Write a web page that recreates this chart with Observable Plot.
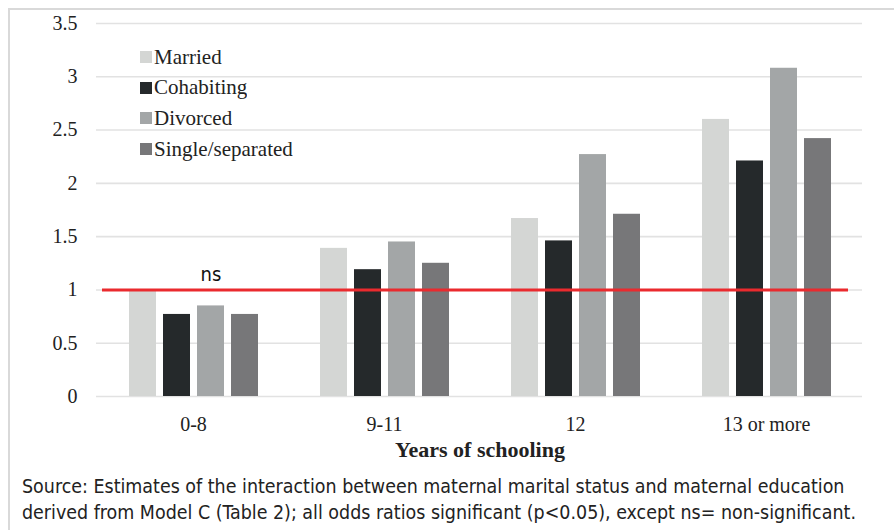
<!DOCTYPE html>
<html>
<head>
<meta charset="utf-8">
<script src="https://cdn.jsdelivr.net/npm/d3@7"></script>
<script src="https://cdn.jsdelivr.net/npm/@observablehq/plot@0.6"></script>
<style>
  html, body { margin: 0; padding: 0; background: #fff; }
  #wrap { position: relative; width: 894px; height: 530px; overflow: hidden; background: #fff; }
  #frame { position: absolute; left: 8px; top: 8px; right: 0; bottom: -10px;
           border-left: 2px solid #d9d9d9; border-top: 2px solid #d9d9d9; }
  .layer { position: absolute; left: 0; top: 0; }
  .layer svg { display: block; }
  #legend { position: absolute; left: 140px; top: 42px; }
  #legend .lg-swatch { height: 30.6px; margin: 0; padding: 0; display: flex; align-items: center; }
  #legend .lg-swatch svg { margin-right: 2px !important; }
  #caption { position: absolute; left: 22px; top: 474px; color: #222;
             font-family: "Liberation Sans Narrow", "DejaVu Sans Condensed", "Noto Sans", sans-serif;
             line-height: 26px; white-space: nowrap; }
  g[aria-label="fx-axis label"] text, g[aria-label="fx-axis label"] { font-weight: bold; font-size: 22px; }
</style>
</head>
<body>
<div id="wrap">
  <div id="frame"></div>
  <div id="gridLayer" class="layer"></div>
  <div id="barLayer" class="layer"></div>
  <div id="refLayer" class="layer"></div>
  <div id="legend"></div>
  <div id="caption"></div>
</div>
<script>
// ---- data ----
const groups = ["0-8", "9-11", "12", "13 or more"];
const statuses = ["Married", "Cohabiting", "Divorced", "Single/separated"];
const married = [1.00, 1.39, 1.67, 2.60];
const cohabiting = [0.77, 1.19, 1.46, 2.21];
const divorced = [0.85, 1.45, 2.27, 3.08];
const single = [0.77, 1.25, 1.71, 2.42];
const yTicks = [0, 0.5, 1, 1.5, 2, 2.5, 3, 3.5];
const refValue = 1;
const nsNote = {group: "0-8", status: "Divorced", value: refValue, label: "ns"};
const xLabel = "Years of schooling";
const captionLines = [
  "Source: Estimates of the interaction between maternal marital status and maternal education",
  "derived from Model C (Table 2); all odds ratios significant (p<0.05), except ns= non-significant."
];
const colors = ["#d4d6d4", "#25292b", "#a3a6a7", "#777779"];

const seriesByStatus = [married, cohabiting, divorced, single];
const rows = [];
groups.forEach((g, gi) => statuses.forEach((s, si) => rows.push({group: g, status: s, value: seriesByStatus[si][gi]})));

// ---- shared layout ----
const W = 894, H = 465;
const common = {
  width: W, height: H,
  marginLeft: 96, marginRight: 32, marginTop: 23, marginBottom: 69,
  style: {background: "transparent", fontFamily: "'Liberation Serif', 'Times New Roman', serif", fontSize: "20px", color: "#222", overflow: "visible"}
};
const yDomain = [0, 3.5];

// background: y axis + grid
const gridPlot = Plot.plot({
  ...common,
  y: {domain: yDomain, ticks: yTicks, tickFormat: d => String(d), tickSize: 0, tickPadding: 19, label: null},
  marks: [
    Plot.ruleY(yTicks, {stroke: "#e2e2e2", strokeWidth: 1.6})
  ]
});
document.getElementById("gridLayer").appendChild(gridPlot);

// bars, faceted by schooling group
const barPlot = Plot.plot({
  ...common,
  fx: {domain: groups, paddingInner: 0.31, paddingOuter: 0.155, axis: "bottom", tickSize: 0, tickPadding: 20,
       label: xLabel, labelAnchor: "center", labelOffset: 60},
  x: {domain: statuses, paddingInner: 0.22, paddingOuter: 0, axis: null},
  y: {domain: yDomain, axis: null},
  color: {domain: statuses, range: colors},
  marks: [
    Plot.barY(rows, {fx: "group", x: "status", y: "value", fill: "status"}),
    Plot.text([nsNote], {fx: "group", x: "status", y: "value", text: "label", lineAnchor: "bottom", dy: -9,
                         fontFamily: "'Liberation Sans Narrow', 'DejaVu Sans Condensed', 'Noto Sans', sans-serif", fontSize: 20, fill: "#111"})
  ]
});
document.getElementById("barLayer").appendChild(barPlot);

// reference line on top
const refPlot = Plot.plot({
  ...common,
  y: {domain: yDomain, axis: null},
  marks: [
    Plot.ruleY([refValue], {stroke: "#ea2a2e", strokeWidth: 3, insetLeft: 6, insetRight: 14})
  ]
});
document.getElementById("refLayer").appendChild(refPlot);

// legend
const legend = Plot.legend({
  color: {domain: statuses, range: colors},
  swatchSize: 12, columns: 1, className: "lg",
  style: {fontFamily: "'Liberation Serif', 'Times New Roman', serif", fontSize: "21px", color: "#222", background: "transparent"}
});
document.getElementById("legend").appendChild(legend);

// caption
const cap = document.getElementById("caption");
captionLines.forEach(t => { const d = document.createElement("div"); const sp = document.createElement("span"); sp.textContent = t; d.appendChild(sp); cap.appendChild(d); });
cap.style.fontSize = "20px";
const w = cap.querySelector("span").getBoundingClientRect().width;
cap.style.fontSize = (20 * 823 / w).toFixed(2) + "px";
</script>
</body>
</html>
